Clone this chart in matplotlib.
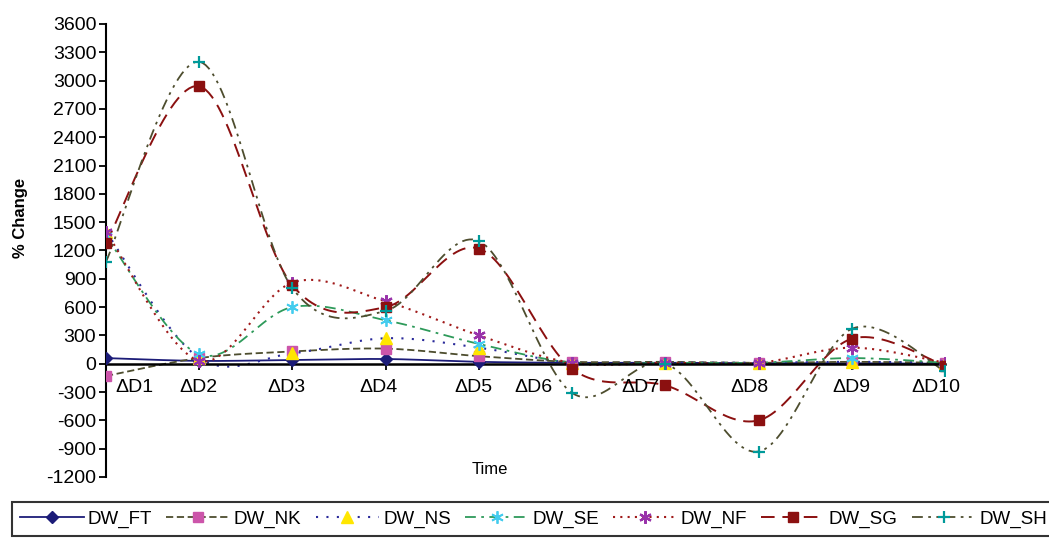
import numpy as np
import matplotlib.pyplot as plt
from matplotlib.lines import Line2D

plt.rcParams['font.family'] = ['Liberation Sans', 'DejaVu Sans']
plt.rcParams['axes.unicode_minus'] = False

periods = ["ΔD1", "ΔD2", "ΔD3", "ΔD4", "ΔD5", "ΔD6", "ΔD7", "ΔD8", "ΔD9", "ΔD10"]

dw_ft = [60, 30, 40, 50, 20, 10, 10, 5, 5, 0]
dw_nk = [-130, 60, 130, 160, 80, 20, 20, 10, 20, 10]
dw_ns = [1400, 60, 110, 270, 170, 10, 10, 10, 20, 10]
dw_se = [1350, 100, 600, 460, 210, 10, 10, 10, 60, 10]
dw_nf = [1400, 30, 860, 660, 300, 10, 10, 10, 170, 10]
dw_sg = [1280, 2940, 830, 600, 1220, -55, -230, -600, 265, -20]
dw_sh = [1080, 3200, 800, 560, 1300, -310, 0, -930, 370, -80]

# horizontal nudge of each category label (in category units)
label_shift = [0.31, -0.01, -0.06, -0.08, -0.06, -0.42, -0.27, -0.1, -0.01, -0.1]


def smooth(y, n=30):
    # Excel-style smoothed line (cubic Bezier, Catmull-Rom control points)
    p = np.column_stack([np.arange(len(y)), y]).astype(float)
    ext = np.vstack([p[0], p, p[-1]])
    t = np.linspace(0, 1, n)[:, None]
    out = []
    for i in range(len(p) - 1):
        p0, p1, p2, p3 = ext[i], ext[i + 1], ext[i + 2], ext[i + 3]
        c1 = p1 + (p2 - p0) / 6
        c2 = p2 - (p3 - p1) / 6
        seg = ((1 - t) ** 3) * p1 + 3 * ((1 - t) ** 2) * t * c1 + 3 * (1 - t) * t ** 2 * c2 + t ** 3 * p2
        out.append(seg if i == 0 else seg[1:])
    out = np.vstack(out)
    return out[:, 0], out[:, 1]


series = [
    ("DW_FT", dw_ft, dict(color="#1c1c78", ls="-", lw=1.3), dict(marker="D", mfc="#1c1c78", mec="#1c1c78", ms=6)),
    ("DW_NK", dw_nk, dict(color="#4d4d2e", ls=(0, (4, 2)), lw=1.3), dict(marker="s", mfc="#cc55aa", mec="#cc55aa", ms=7)),
    ("DW_NS", dw_ns, dict(color="#2a2a9a", ls=(0, (1, 4)), lw=1.5), dict(marker="^", mfc="#ffe600", mec="#ffe600", ms=8)),
    ("DW_SE", dw_se, dict(color="#2e9a5a", ls=(0, (6, 3, 1.5, 3)), lw=1.3), dict(marker=(6, 2, 0), mfc="#44ccee", mec="#44ccee", ms=9, mew=1.3)),
    ("DW_NF", dw_nf, dict(color="#a01a1a", ls=(0, (1, 2.5)), lw=1.5), dict(marker=(6, 2, 0), mfc="#9933aa", mec="#9933aa", ms=9, mew=1.6)),
    ("DW_SG", dw_sg, dict(color="#8b1010", ls=(0, (7, 4)), lw=1.4), dict(marker="s", mfc="#8b1010", mec="#8b1010", ms=6.5)),
    ("DW_SH", dw_sh, dict(color="#4d4d2e", ls=(0, (6, 3, 1.5, 3, 1.5, 3)), lw=1.3), dict(marker="+", mfc="#009a9a", mec="#009a9a", ms=9, mew=1.6)),
]

fig = plt.figure(figsize=(10.49, 5.4), dpi=100)
ax = fig.add_axes([0.101, 0.1167, 0.80, 0.8389])

x = np.arange(len(periods))
handles = []
for name, vals, lstyle, mstyle in series:
    sx, sy = smooth(vals)
    ax.plot(sx, sy, zorder=2, **lstyle)
    ax.plot(x, vals, ls="none", zorder=3, **mstyle)
    handles.append(Line2D([], [], **lstyle, **mstyle))

ax.set_xlim(0, len(periods) - 1)
ax.set_ylim(-1200, 3600)
ax.set_yticks(np.arange(-1200, 3601, 300))
ax.tick_params(axis="y", labelsize=14, length=5, width=1.3, direction="out", pad=2)
ax.set_xticks(x)
ax.set_xticklabels([])
ax.tick_params(axis="x", length=8, width=1.3, direction="inout")
ax.spines["bottom"].set_position(("data", 0))
ax.spines["bottom"].set_linewidth(1.8)
ax.spines["left"].set_linewidth(1.5)
ax.spines["top"].set_visible(False)
ax.spines["right"].set_visible(False)

for i, lab in enumerate(periods):
    ax.text(i + label_shift[i], -250, lab, ha="center", va="center", fontsize=14)

fig.text(0.02, 1 - 218 / 540, "% Change", rotation=90, ha="center", va="center",
         fontsize=12, fontweight="bold")
fig.text(490 / 1049, 1 - 470 / 540, "Time", ha="center", va="center", fontsize=12)

leg = fig.legend(handles=handles, labels=[s[0] for s in series],
                 loc="upper left", bbox_to_anchor=(12 / 1049, 1 - 502 / 540),
                 ncol=7, fontsize=13.5, handlelength=3.4, handletextpad=0.2,
                 columnspacing=0.75, numpoints=1, frameon=True, fancybox=False,
                 borderaxespad=0, borderpad=0.45)
leg.get_frame().set_edgecolor("black")
leg.get_frame().set_linewidth(1.5)

fig.savefig("out.png", dpi=100)
